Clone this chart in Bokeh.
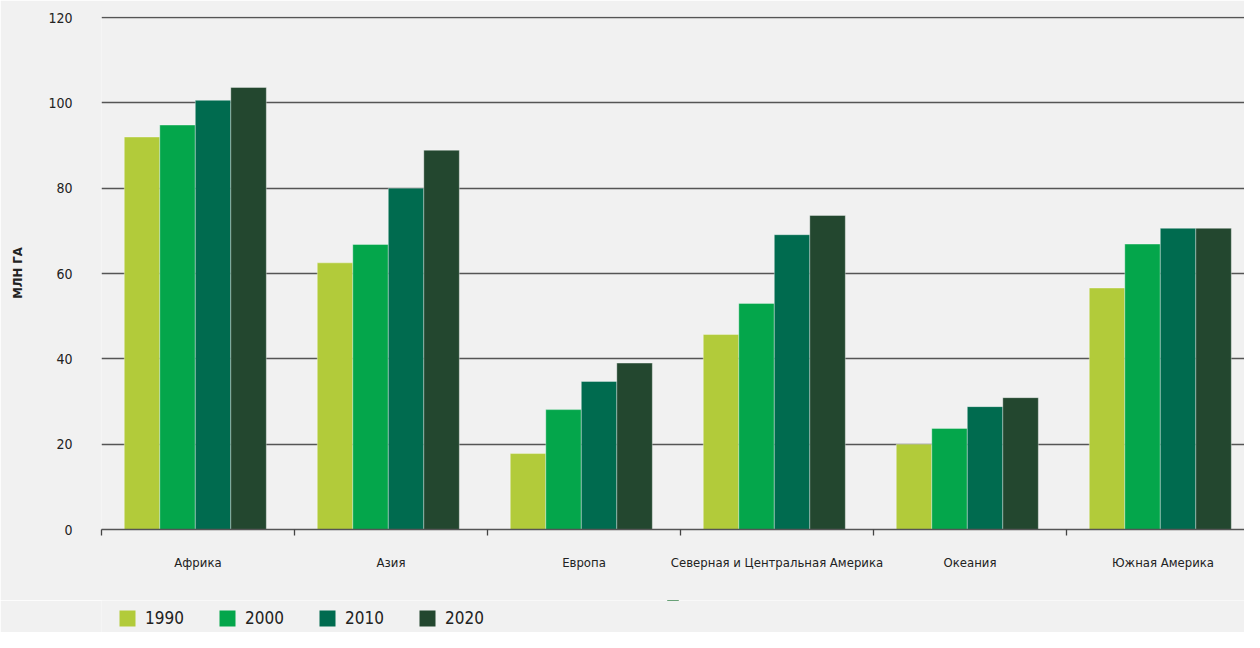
import numpy as np
from bokeh.plotting import figure
from bokeh.layouts import column
from bokeh.models import (ColumnDataSource, Range1d, FixedTicker, Legend, LegendItem)
from bokeh.transform import dodge
from bokeh.embed import file_html
from bokeh.resources import INLINE

regions = ["Африка", "Азия", "Европа", "Северная и Центральная Америка", "Океания", "Южная Америка"]
years = ["1990", "2000", "2010", "2020"]
v1990 = [92.0, 62.5, 17.8, 45.7, 20.0, 56.6]
v2000 = [94.8, 66.8, 28.1, 53.0, 23.7, 66.9]
v2010 = [100.6, 80.0, 34.7, 69.1, 28.8, 70.6]
v2020 = [103.6, 88.9, 39.0, 73.6, 30.9, 70.6]
y_ticks = [0, 20, 40, 60, 80, 100, 120]

colors = ["#b2cb3a", "#04a64b", "#006b4f", "#23472f"]
FONT = "Liberation Sans Narrow, DejaVu Sans Condensed, sans-serif"
BG = "#f1f1f1"

xc = np.arange(len(regions)) + 0.5
src = ColumnDataSource(dict(x=xc, v1990=v1990, v2000=v2000, v2010=v2010, v2020=v2020))

p = figure(width=1244, height=600, output_backend="svg", toolbar_location=None,
           x_range=Range1d(0, (1244 - 101) / 193), y_range=Range1d(0, 120.25),
           min_border_left=101, min_border_right=0, min_border_top=16, min_border_bottom=71)
p.background_fill_color = BG
p.border_fill_color = BG
p.outline_line_color = None

w = 0.184
offsets = [-0.29, -0.106, 0.078, 0.262]
for col, off, c in zip(["v1990", "v2000", "v2010", "v2020"], offsets, colors):
    p.vbar(x=dodge("x", off, range=p.x_range), top=col, width=w, bottom=0,
           source=src, fill_color=c, line_color="#ffffff", line_alpha=0.35, line_width=1)

# axes
xa = p.xaxis[0]
xa.ticker = FixedTicker(ticks=list(xc), minor_ticks=list(range(len(regions) + 1)))
xa.major_label_overrides = {float(x): r for x, r in zip(xc, regions)}
xa.major_tick_out = 0
xa.major_tick_in = 0
xa.minor_tick_out = 6
xa.minor_tick_in = 0
xa.minor_tick_line_color = "#444444"
xa.minor_tick_line_width = 1.3
xa.axis_line_color = "#555555"
xa.axis_line_width = 1.5
xa.major_label_standoff = 19
xa.major_label_text_font = FONT
xa.major_label_text_font_size = "13px"
xa.major_label_text_color = "#222222"

ya = p.yaxis[0]
ya.ticker = FixedTicker(ticks=y_ticks)
ya.axis_line_color = None
ya.major_tick_line_color = None
ya.minor_tick_line_color = None
ya.major_label_standoff = 23
ya.major_label_text_font = FONT
ya.major_label_text_font_size = "14px"
ya.major_label_text_color = "#222222"
ya.axis_label = "МЛН ГА"
ya.axis_label_text_font = FONT
ya.axis_label_text_font_style = "bold"
ya.axis_label_text_font_size = "13px"
ya.axis_label_text_color = "#222222"
ya.axis_label_standoff = 20

p.xgrid.grid_line_color = None
p.ygrid.ticker = FixedTicker(ticks=y_ticks)
p.ygrid.grid_line_color = "#555555"
p.ygrid.grid_line_width = 1.3

# legend strip below the chart
pl = figure(width=1244, height=32, output_backend="svg", toolbar_location=None,
            x_range=Range1d(0, 1), y_range=Range1d(0, 1),
            x_axis_location=None, y_axis_location=None,
            min_border_left=101, min_border_right=0, min_border_top=0, min_border_bottom=0)
pl.background_fill_color = BG
pl.border_fill_color = BG
pl.outline_line_color = None
pl.grid.grid_line_color = None
hidden = ColumnDataSource(dict(x=[0.5], top=[12], bottom=[11]))
lrs = [pl.vbar(x="x", top="top", bottom="bottom", width=0.01, source=hidden,
               fill_color=c, line_color=None)
       for c in colors]

legend = Legend(items=[LegendItem(label=y, renderers=[r]) for y, r in zip(years, lrs)],
                orientation="horizontal", location=(16, 4))
legend.background_fill_alpha = 0
legend.border_line_color = None
legend.padding = 0
legend.margin = 0
legend.spacing = 0
legend.glyph_width = 20
legend.glyph_height = 20
legend.label_standoff = 8
legend.label_width = 72
legend.label_text_font = FONT
legend.label_text_font_size = "17px"
legend.label_text_color = "#222222"
pl.add_layout(legend, "center")

layout = column(p, pl, spacing=0)
open("out.html", "w").write(file_html(layout, INLINE))
